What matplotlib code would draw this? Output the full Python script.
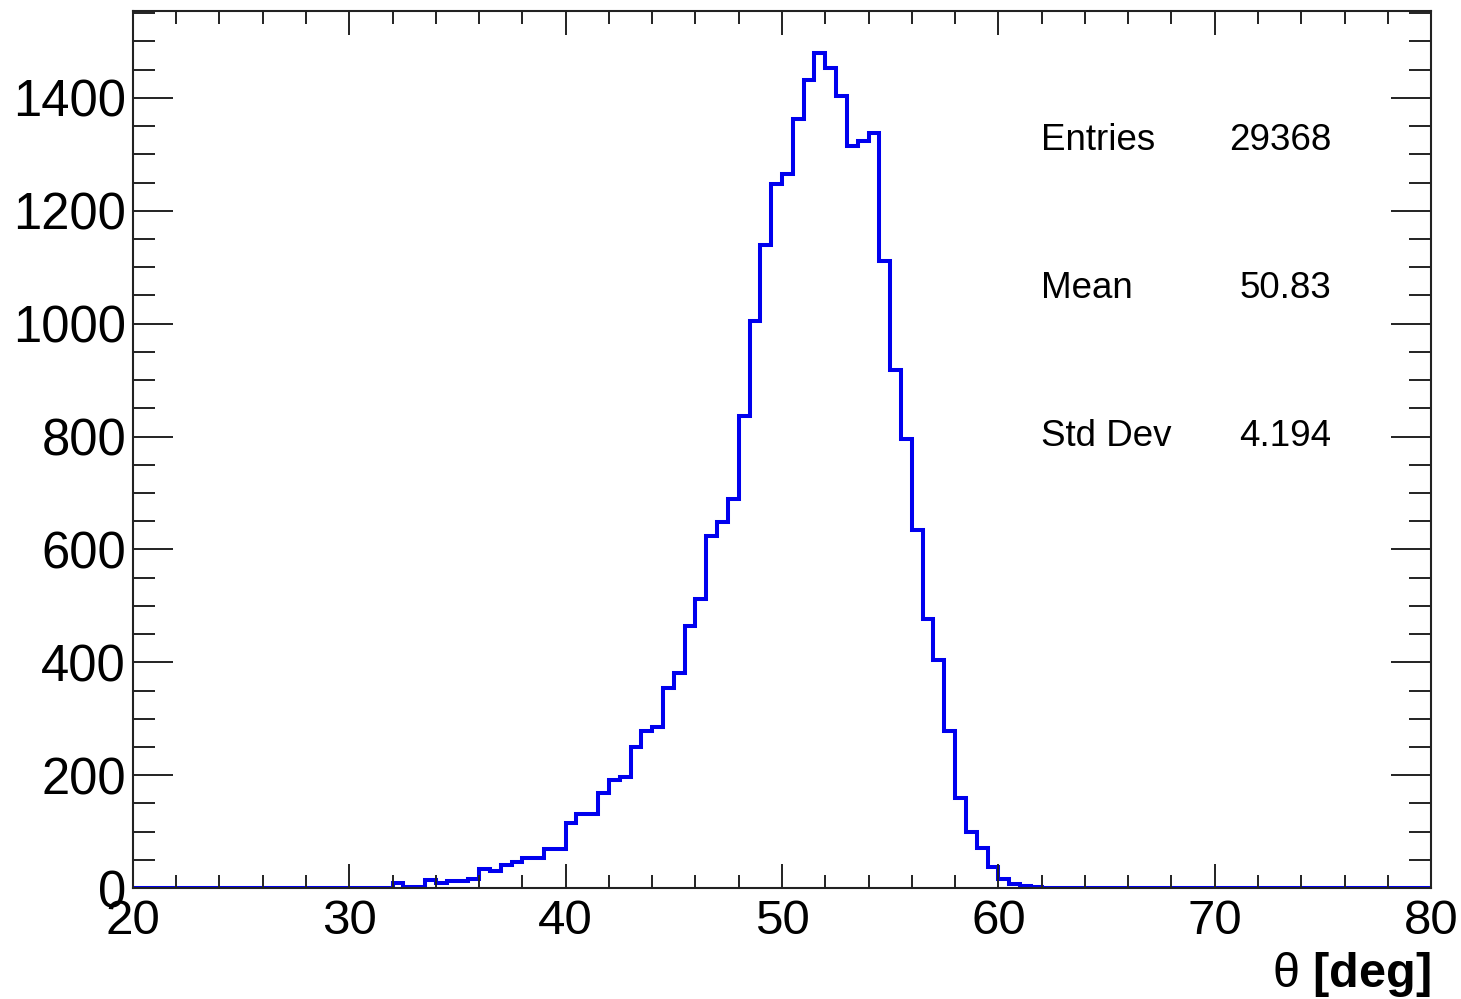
import numpy as np
import matplotlib
matplotlib.use("Agg")
from matplotlib import pyplot as plt
from matplotlib.ticker import MultipleLocator

plt.rcParams['font.family'] = ['Liberation Sans', 'DejaVu Sans']
plt.rcParams['mathtext.fontset'] = 'custom'
plt.rcParams['mathtext.rm'] = 'Liberation Sans'

# histogram of theta, 120 bins of 0.5 deg from 20 to 80
bin_edges = np.linspace(20, 80, 121)
counts = [
    0, 0, 0, 0, 0, 0, 0, 0, 0, 0, 0, 0, 0, 0, 0, 0, 0, 0, 0, 0, 0, 0, 0, 0,  # 20 - 32
    9, 2, 2, 14, 9, 12, 12, 17,                          # 32 - 36
    33, 30, 41, 46, 53, 53, 70, 70,                      # 36 - 40
    115, 131, 131, 168, 191, 197, 250, 278,              # 40 - 44
    285, 354, 381, 464, 513, 623, 648, 690,              # 44 - 48
    837, 1005, 1140, 1247, 1265, 1362, 1431, 1480,       # 48 - 52
    1453, 1403, 1314, 1323, 1337, 1111, 918, 795,        # 52 - 56
    635, 476, 405, 278, 159, 99, 71, 37,                 # 56 - 60
    17, 8, 4, 2, 1, 0, 0, 0,                             # 60 - 64
    0, 0, 0, 0, 0, 0, 0, 0, 0, 0, 0, 0, 0, 0, 0, 0,      # 64 - 72
    0, 0, 0, 0, 0, 0, 0, 0, 0, 0, 0, 0, 0, 0, 0, 0,      # 72 - 80
]

stat_names = ["Entries", "Mean", "Std Dev"]
stat_values = ["29368", "50.83", "4.194"]

fig = plt.figure(figsize=(14.61, 9.99), dpi=100)
ax = fig.add_axes([0.091, 0.111, 0.8885, 0.878])

ax.stairs(counts, bin_edges, color='#0000ee', linewidth=2.9)

ax.set_xlim(20, 80)
ax.set_ylim(0, 1.05 * max(counts))

ax.xaxis.set_major_locator(MultipleLocator(10))
ax.xaxis.set_minor_locator(MultipleLocator(2))
ax.yaxis.set_major_locator(MultipleLocator(200))
ax.yaxis.set_minor_locator(MultipleLocator(50))

ax.tick_params(axis='both', which='both', direction='in', top=True, right=True,
               width=1.4, color='#222222', labelsize=35.5)
ax.tick_params(axis='y', which='major', length=28.8, pad=5, labelsize=36.5)
ax.tick_params(axis='y', which='minor', length=15.8)
ax.tick_params(axis='x', which='major', length=17.3, pad=8)
ax.tick_params(axis='x', which='minor', length=9.6)

for s in ax.spines.values():
    s.set_linewidth(1.5)
    s.set_color('#222222')

# theta in regular weight, [deg] in bold
ax.set_xlabel(r"$\mathrm{\theta}$ [deg]", fontsize=35, fontweight='bold', loc='right')
ax.xaxis.set_label_coords(1.0, -0.071)

# stats box (no frame)
stat_y = [0.852, 0.684, 0.515]
for name, val, yy in zip(stat_names, stat_values, stat_y):
    ax.text(0.6995, yy, name, transform=ax.transAxes, fontsize=26.5,
            ha='left', va='center')
    ax.text(0.923, yy, val, transform=ax.transAxes, fontsize=26.5,
            ha='right', va='center')

fig.savefig("out.png", dpi=100)
